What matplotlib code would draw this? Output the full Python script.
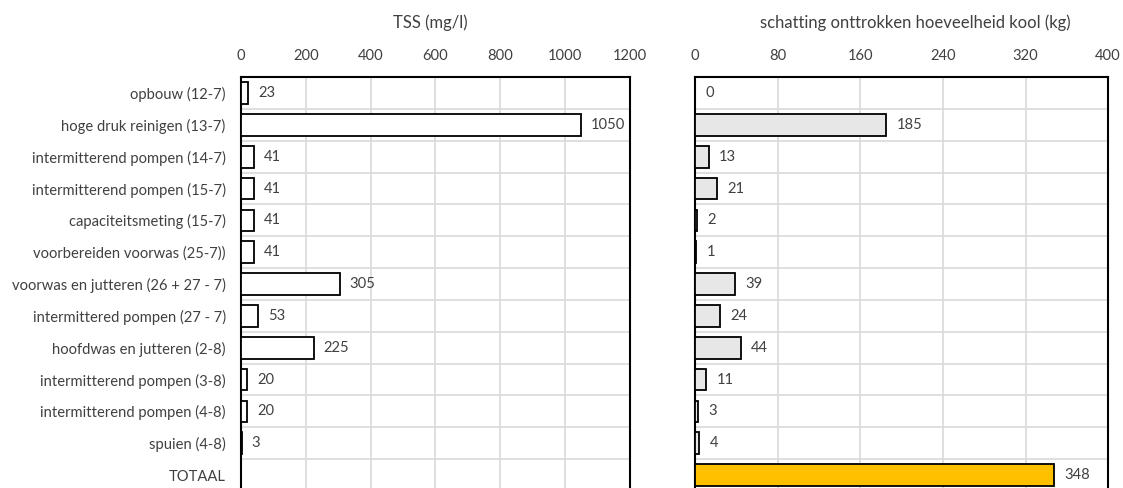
import matplotlib.pyplot as plt
import numpy as np

plt.rcParams['font.family'] = ['Lato', 'DejaVu Sans']

categories = ["opbouw (12-7)", "hoge druk reinigen (13-7)", "intermitterend pompen (14-7)",
              "intermitterend pompen (15-7)", "capaciteitsmeting (15-7)", "voorbereiden voorwas (25-7))",
              "voorwas en jutteren (26 + 27 - 7)", "intermittered pompen (27 - 7)", "hoofdwas en jutteren (2-8)",
              "intermitterend pompen (3-8)", "intermitterend pompen (4-8)", "spuien (4-8)", "TOTAAL"]
tss = [23, 1050, 41, 41, 41, 41, 305, 53, 225, 20, 20, 3]
kool = [0, 185, 13, 21, 2, 1, 39, 24, 44, 11, 3, 4, 348]

grid_col = "#d9d9d9"
text_col = "#404040"
fs = 10.6

fig = plt.figure(figsize=(11.23, 4.88), dpi=100)
ax1 = fig.add_axes([0.2146, -0.006, 0.3464, 0.848])
ax2 = fig.add_axes([0.619, -0.006, 0.3678, 0.848])

n = len(categories)
y = np.arange(n)


def style(ax, xmax, step, title, title_x):
    ax.set_xlim(0, xmax)
    ax.set_ylim(n - 0.5, -0.5)
    ax.xaxis.tick_top()
    ax.set_xticks(np.arange(0, xmax + 1, step))
    ax.tick_params(axis="x", length=0, pad=10, labelsize=fs, labelcolor=text_col)
    ax.set_yticks(np.arange(n - 1) + 0.5, minor=True)
    ax.grid(True, axis="x", color=grid_col, lw=1.2, zorder=0)
    ax.grid(True, axis="y", which="minor", color=grid_col, lw=1.2, zorder=0)
    ax.tick_params(axis="y", which="both", length=0)
    ax.set_axisbelow(True)
    for s in ax.spines.values():
        s.set_linewidth(1.5)
        s.set_color("black")
    ax.set_title(title, fontsize=12, color=text_col, pad=15, x=title_x)


# TSS
style(ax1, 1200, 200, "TSS (mg/l)", 0.487)
ax1.barh(y[:len(tss)], tss, height=0.68, color="white", edgecolor="black", lw=1.3, zorder=3)
for yi, v in zip(y, tss):
    ax1.text(v + 30, yi, str(v), va="center", ha="left", fontsize=fs, color=text_col)
ax1.set_yticks(y)
ax1.set_yticklabels(categories, fontsize=fs, color=text_col)
ax1.tick_params(axis="y", pad=11)

# kool
style(ax2, 400, 80, "schatting onttrokken hoeveelheid kool (kg)", 0.534)
colors = ["#e7e7e7"] * (n - 1) + ["#ffc000"]
ax2.barh(y, kool, height=0.68, color=colors, edgecolor="black", lw=1.3, zorder=3)
for yi, v in zip(y, kool):
    ax2.text(v + 10, yi, str(v), va="center", ha="left", fontsize=fs, color=text_col)
ax2.set_yticks([])

fig.savefig("out.png", dpi=100)
